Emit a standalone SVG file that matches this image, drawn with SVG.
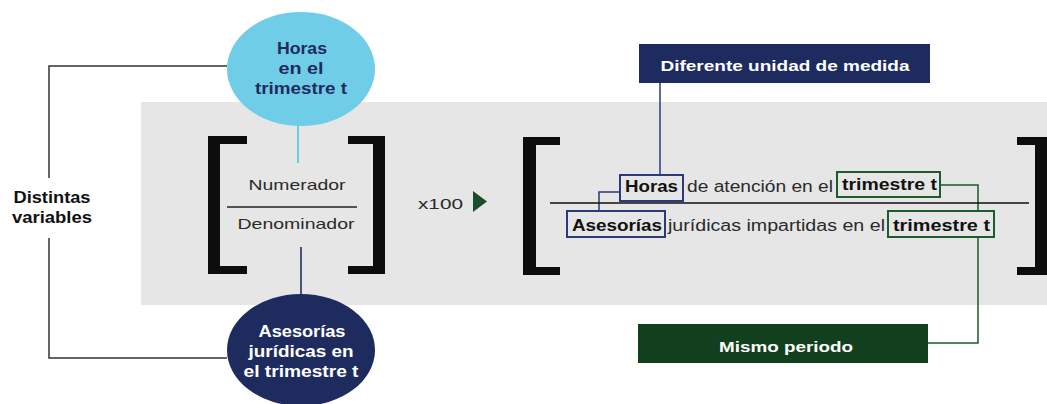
<svg xmlns="http://www.w3.org/2000/svg" width="1047" height="404" viewBox="0 0 1047 404">
<style>
.b{font-family:"Liberation Sans",Arial,sans-serif;font-weight:bold}
.r{font-family:"Liberation Sans",Arial,sans-serif;font-weight:normal;fill:#2a2a2a}
.navy{fill:#1e2b5e}
.w{fill:#ffffff}
.k{fill:#111111}
.br{fill:#0d0d0d}
.cn{fill:none;stroke-width:1.5}
.bx{fill:none;stroke-width:2}
</style>
<rect x="141" y="102" width="906" height="203" fill="#e6e6e6"/>
<g id="connectors">
<polyline class="cn" stroke="#333333" points="227,66 49,66 49,178"/>
<polyline class="cn" stroke="#333333" points="49,238 49,358 227,358"/>
<line x1="298" y1="126" x2="298" y2="163" stroke="#6ecde6" stroke-width="2"/>
<line x1="301" y1="247" x2="301" y2="295" stroke="#4a5680" stroke-width="2"/>
<line class="cn" stroke="#2b3a78" x1="660" y1="83" x2="660" y2="175"/>
<polyline class="cn" stroke="#2b3a78" points="620,192 599,192 599,211"/>
<polyline class="cn" stroke="#1d5a2c" points="940,185 978,185 978,211"/>
<polyline class="cn" stroke="#1d5a2c" points="978,237 978,343 928,343"/>
</g>
<g id="horas-ellipse">
<ellipse cx="301" cy="69" rx="74" ry="57" fill="#70cde8"/>
<text class="b navy" font-size="16" text-anchor="middle" x="302" y="54" textLength="50" lengthAdjust="spacingAndGlyphs">Horas</text>
<text class="b navy" font-size="16" text-anchor="middle" x="301" y="74" textLength="45" lengthAdjust="spacingAndGlyphs">en el</text>
<text class="b navy" font-size="16" text-anchor="middle" x="301" y="94" textLength="92" lengthAdjust="spacingAndGlyphs">trimestre t</text>
</g>
<g id="asesorias-ellipse">
<ellipse cx="301" cy="350" rx="74" ry="56" fill="#1e2b5e"/>
<text class="b w" font-size="16" text-anchor="middle" x="302" y="337" textLength="87" lengthAdjust="spacingAndGlyphs">Asesorías</text>
<text class="b w" font-size="16" text-anchor="middle" x="301" y="357" textLength="105" lengthAdjust="spacingAndGlyphs">jurídicas en</text>
<text class="b w" font-size="16" text-anchor="middle" x="301" y="377" textLength="115" lengthAdjust="spacingAndGlyphs">el trimestre t</text>
</g>
<g id="distintas-variables">
<text class="b k" font-size="16" text-anchor="middle" x="52" y="203" textLength="77" lengthAdjust="spacingAndGlyphs">Distintas</text>
<text class="b k" font-size="16" text-anchor="middle" x="52" y="223" textLength="80" lengthAdjust="spacingAndGlyphs">variables</text>
</g>
<g id="fraccion-general">
<path class="br" d="M208,136 H247 V144 H220 V266 H247 V274 H208 Z"/>
<path class="br" d="M385,136 H348 V144 H373 V266 H348 V274 H385 Z"/>
<text class="r" font-size="15" text-anchor="middle" x="297" y="190" textLength="97" lengthAdjust="spacingAndGlyphs">Numerador</text>
<line x1="227" y1="207" x2="357" y2="207" stroke="#222" stroke-width="1.5"/>
<text class="r" font-size="15" text-anchor="middle" x="296" y="229" textLength="117" lengthAdjust="spacingAndGlyphs">Denominador</text>
</g>
<g id="x100">
<text class="r" font-size="15" x="418" y="209" textLength="45" lengthAdjust="spacingAndGlyphs">x100</text>
<polygon points="473,191 487,201.5 473,212" fill="#1a4d2a"/>
</g>
<g id="fraccion-ejemplo">
<path class="br" d="M523,137 H560 V145 H536 V267 H560 V275 H523 Z"/>
<path class="br" d="M1047,137 H1017 V145 H1035 V267 H1017 V275 H1047 Z"/>
<rect class="bx" x="620" y="175" width="63" height="26" stroke="#2b3a78"/>
<text class="b k" font-size="16" x="625" y="192" textLength="53" lengthAdjust="spacingAndGlyphs">Horas</text>
<text class="r" font-size="16" x="687" y="192" textLength="146" lengthAdjust="spacingAndGlyphs">de atención en el</text>
<rect class="bx" x="837" y="172" width="103" height="25" stroke="#1d5a2c"/>
<text class="b k" font-size="16" x="842" y="190" textLength="95" lengthAdjust="spacingAndGlyphs">trimestre t</text>
<line x1="550" y1="203" x2="1029" y2="203" stroke="#111" stroke-width="1.5"/>
<rect class="bx" x="567" y="211" width="98" height="26" stroke="#2b3a78"/>
<text class="b k" font-size="16" x="572" y="231" textLength="90" lengthAdjust="spacingAndGlyphs">Asesorías</text>
<text class="r" font-size="16" x="668" y="231" textLength="217" lengthAdjust="spacingAndGlyphs">jurídicas impartidas en el</text>
<rect class="bx" x="888" y="211" width="106" height="26" stroke="#1d5a2c"/>
<text class="b k" font-size="16" x="893" y="231" textLength="97" lengthAdjust="spacingAndGlyphs">trimestre t</text>
</g>
<g id="diferente-unidad">
<rect x="639" y="44" width="291" height="39" fill="#1e2b5e"/>
<text class="b w" font-size="15" text-anchor="middle" x="785" y="71" textLength="249" lengthAdjust="spacingAndGlyphs">Diferente unidad de medida</text>
</g>
<g id="mismo-periodo">
<rect x="638" y="324" width="290" height="39" fill="#12401f"/>
<text class="b w" font-size="15" text-anchor="middle" x="786" y="352" textLength="134" lengthAdjust="spacingAndGlyphs">Mismo periodo</text>
</g>
</svg>
